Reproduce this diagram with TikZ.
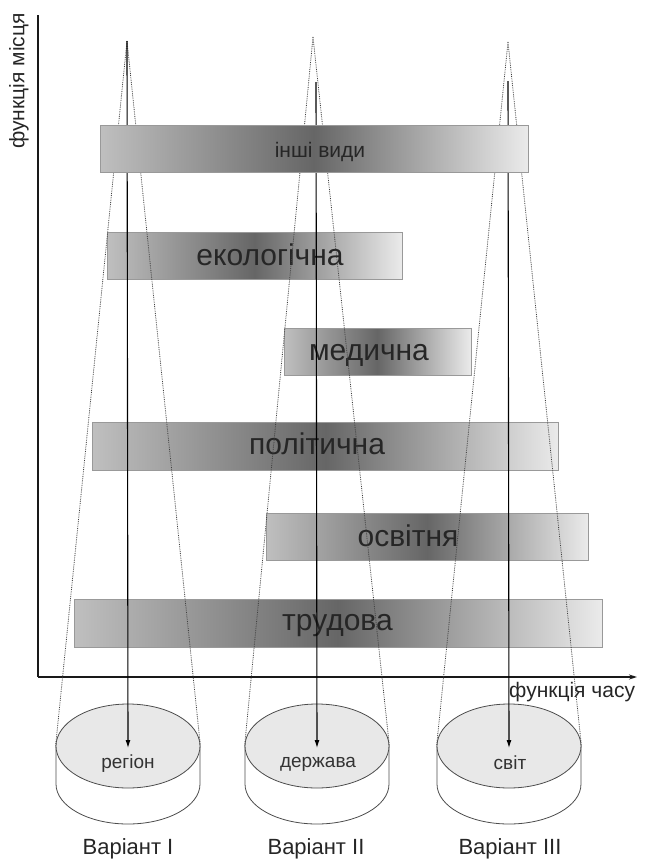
\documentclass[tikz,border=0pt]{standalone}
\usepackage{fontspec}
\setmainfont{Liberation Sans}
\usetikzlibrary{shapes.geometric,arrows.meta}
\begin{document}
\begin{tikzpicture}[x=1pt,y=-1pt,
  bar/.style={draw=black!40, line width=0.6pt, left color=black!25, right color=black!8, middle color=black!60, minimum height=47pt, inner sep=0pt},
  barlabel/.style={anchor=base, font=\fontsize{30}{32}\selectfont, text=black!85, inner sep=0pt},
  smalllabel/.style={anchor=base, font=\fontsize{21}{23}\selectfont, text=black!85, inner sep=0pt},
  cyllabel/.style={anchor=base, font=\fontsize{19}{21}\selectfont, text=black!80, inner sep=0pt},
  varlabel/.style={anchor=base, font=\fontsize{22}{24}\selectfont, text=black!85, inner sep=0pt},
  axislabel/.style={font=\fontsize{21}{23}\selectfont, text=black!85, inner sep=0pt},
  cyltop/.style={ellipse, draw=black!70, line width=0.8pt, fill=black!9, minimum width=144pt, minimum height=84pt, inner sep=0pt},
  cylbody/.style={draw=black!70, line width=0.8pt},
  dots/.style={densely dotted, draw=black!75, line width=0.8pt},
  arr/.style={draw=black, line width=1.1pt, -{Latex[length=8pt,width=5pt]}},
  axisline/.style={draw=black!90, line width=1.3pt}
]
\useasboundingbox (0,0) rectangle (648,865);

% axes
\coordinate (ytop) at (38,15);
\coordinate (origin) at (38,677);
\coordinate (xend) at (637,677);
\draw[axisline] (ytop) -- (origin);
\draw[axisline, -{Stealth[length=8pt,width=5pt]}] (origin) -- (xend);
\node[axislabel, rotate=90] (ylab) at (19,81) {функція місця};
\node[axislabel, anchor=base west] (xlab) at (509,697) {функція часу};

% bars (behind the lines)
\node[bar, minimum width=295pt] (b2) at (254.5,255.5) {};
\node[bar, minimum width=187pt] (b3) at (377.5,352) {};
\node[bar, minimum width=466pt, minimum height=48pt] (b4) at (325.5,446.5) {};
\node[bar, minimum width=322pt] (b5) at (427,536.5) {};
\node[bar, minimum width=528pt, minimum height=48pt] (b6) at (338,623) {};
\node[barlabel] (t2) at (270,265) {екологічна};
\node[barlabel] (t3) at (369,360) {медична};
\node[barlabel] (t4) at (317,454) {політична};
\node[barlabel] (t5) at (408,546) {освітня};
\node[barlabel] (t6) at (337.5,630) {трудова};

% cylinders
\coordinate (c1) at (128,746);
\coordinate (c2) at (317,746);
\coordinate (c3) at (509,746);
\draw[cylbody] ([xshift=-72pt]c1) -- ++(0,38) arc[start angle=180, end angle=0, x radius=72, y radius=40] -- ([xshift=72pt]c1);
\draw[cylbody] ([xshift=-72pt]c2) -- ++(0,38) arc[start angle=180, end angle=0, x radius=72, y radius=40] -- ([xshift=72pt]c2);
\draw[cylbody] ([xshift=-72pt]c3) -- ++(0,38) arc[start angle=180, end angle=0, x radius=72, y radius=40] -- ([xshift=72pt]c3);
\node[cyltop] (e1) at (c1) {};
\node[cyltop] (e2) at (c2) {};
\node[cyltop] (e3) at (c3) {};
\node[cyllabel] (l1) at (128,768) {регіон};
\node[cyllabel] (l2) at (318,767) {держава};
\node[cyllabel] (l3) at (510,769) {світ};

% apexes
\coordinate (p1) at (127,41);
\coordinate (s1) at (127,41);
\coordinate (p2) at (313,37);
\coordinate (s2) at (316,82);
\coordinate (p3) at (508,42);
\coordinate (s3) at (508,81);

% dotted cones
\draw[dots] (p1) -- (e1.west);
\draw[dots] (p1) -- (e1.east);
\draw[dots] (p2) -- (e2.west);
\draw[dots] (p2) -- (e2.east);
\draw[dots] (p3) -- (e3.west);
\draw[dots] (p3) -- (e3.east);

% solid arrows
\draw[arr] (s1) -- ([yshift=-2pt]e1.center);
\draw[arr] (s2) -- ([yshift=-2pt]e2.center);
\draw[arr] (s3) -- ([yshift=-2pt]e3.center);

% top bar (in front of the lines)
\node[bar, minimum width=428pt] (b1) at (314,148.5) {};
\node[smalllabel] (t1) at (320,157.5) {інші види};

% variant labels
\node[varlabel] (v1) at (128,854) {Варіант I};
\node[varlabel] (v2) at (316,854) {Варіант II};
\node[varlabel] (v3) at (510,854) {Варіант III};
\end{tikzpicture}
\end{document}
